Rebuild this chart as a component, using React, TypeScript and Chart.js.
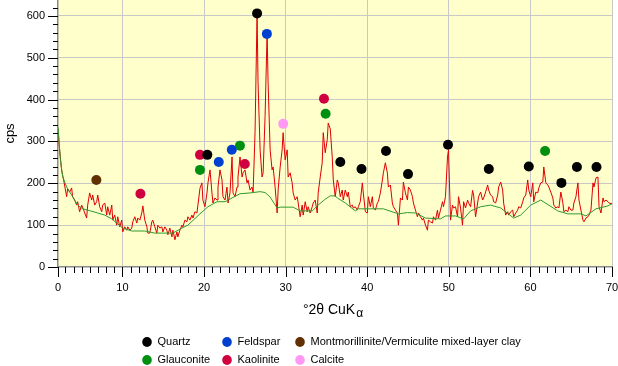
import React, { useEffect, useRef } from "react";
import { Chart, registerables } from "chart.js";

Chart.register(...registerables);

// ---- data ----
const measuredScan: [number, number][] = [
  [2.1,330],[2.25,290],[2.42,256],[2.54,232],[2.79,208],[3.16,168],[3.28,187],[3.53,179],[3.77,189],[3.89,168],
  [4.14,160],[4.39,148],[4.51,156],[4.75,132],[5.0,148],[5.25,136],[5.61,117],[5.74,148],[5.98,177],[6.23,160],
  [6.35,172],[6.6,148],[6.84,156],[6.97,172],[7.21,144],[7.46,132],[7.58,148],[7.83,153],[8.07,124],[8.19,144],
  [8.44,124],[8.69,148],[8.81,112],[9.05,124],[9.3,100],[9.42,120],[9.67,96],[9.91,112],[10.04,84],[10.28,96],
  [10.53,88],[10.65,96],[10.9,88],[11.14,93],[11.27,108],[11.51,120],[11.76,105],[11.88,117],[12.13,112],[12.37,129],
  [12.5,146],[12.74,112],[12.99,96],[13.11,81],[13.35,81],[13.6,108],[13.72,112],[13.97,96],[14.21,81],[14.34,100],
  [14.58,93],[14.83,96],[14.95,84],[15.2,96],[15.44,88],[15.57,77],[15.81,93],[16.06,72],[16.18,88],[16.43,65],
  [16.67,84],[16.79,72],[17.04,88],[17.29,100],[17.41,96],[17.65,112],[17.9,108],[18.02,120],[18.27,112],[18.51,124],
  [18.64,117],[18.88,132],[19.13,129],[19.25,148],[19.5,188],[19.74,201],[19.86,160],[20.11,144],[20.36,177],[20.48,201],
  [20.73,232],[20.97,177],[21.09,153],[21.34,165],[21.59,160],[21.71,191],[21.95,232],[22.2,208],[22.32,168],[22.57,160],
  [22.81,191],[22.94,153],[23.18,177],[23.43,263],[23.55,177],[23.8,168],[24.04,191],[24.16,215],[24.41,263],[24.66,215],
  [24.78,225],[25.02,232],[25.27,201],[25.39,208],[25.64,184],[25.88,191],[26.01,177],[26.25,321],[26.5,607],[26.62,440],
  [26.87,280],[27.11,215],[27.24,225],[27.48,359],[27.73,560],[27.85,440],[28.1,280],[28.34,232],[28.47,239],[28.71,191],
  [28.96,129],[29.08,184],[29.33,239],[29.57,280],[29.69,321],[29.94,256],[30.19,280],[30.31,215],[30.55,225],[30.8,201],
  [30.92,177],[31.17,160],[31.41,168],[31.54,153],[31.78,120],[32.03,148],[32.15,124],[32.4,156],[32.64,132],[32.76,144],
  [33.01,129],[33.26,144],[33.38,153],[33.62,160],[33.87,129],[33.99,177],[34.24,215],[34.48,249],[34.61,321],[34.85,273],
  [35.1,304],[35.22,344],[35.47,330],[35.71,263],[35.84,208],[36.08,168],[36.33,208],[36.45,201],[36.7,168],[36.94,184],
  [37.06,160],[37.31,184],[37.56,168],[37.68,179],[37.92,144],[38.17,148],[38.29,141],[38.54,144],[38.78,136],[38.91,144],
  [39.15,156],[39.4,201],[39.52,177],[39.77,132],[40.01,129],[40.14,168],[40.38,144],[40.63,168],[40.75,141],[41.0,136],
  [41.24,153],[41.36,156],[41.61,177],[41.86,208],[41.98,225],[42.22,249],[42.47,225],[42.59,191],[42.84,196],[43.08,153],
  [43.21,144],[43.45,136],[43.7,129],[43.82,100],[44.07,165],[44.31,160],[44.43,203],[44.68,177],[44.93,160],[45.05,191],
  [45.29,184],[45.54,168],[45.66,153],[45.91,136],[46.15,120],[46.28,129],[46.52,120],[46.77,112],[46.89,117],[47.14,100],
  [47.38,88],[47.5,112],[47.75,108],[48.0,105],[48.12,120],[48.37,112],[48.61,136],[48.73,117],[48.98,136],[49.23,156],
  [49.35,144],[49.59,168],[49.84,263],[49.96,280],[50.21,112],[50.45,148],[50.58,141],[50.82,144],[51.07,120],[51.19,168],
  [51.44,141],[51.68,100],[51.81,156],[52.05,141],[52.3,160],[52.42,153],[52.67,144],[52.91,183],[53.04,172],[53.28,120],
  [53.53,153],[53.65,168],[53.9,179],[54.14,160],[54.27,165],[54.51,179],[54.76,196],[54.88,184],[55.12,172],[55.37,168],
  [55.49,156],[55.74,153],[55.99,172],[56.11,191],[56.36,203],[56.6,184],[56.72,153],[56.97,124],[57.22,132],[57.34,124],
  [57.58,132],[57.83,136],[57.95,120],[58.2,129],[58.44,136],[58.57,144],[58.81,141],[59.06,156],[59.18,165],[59.43,172],
  [59.67,208],[59.8,184],[60.04,168],[60.29,201],[60.41,156],[60.66,179],[60.9,177],[61.03,189],[61.27,201],[61.52,203],
  [61.64,239],[61.89,201],[62.13,196],[62.26,191],[62.5,179],[62.75,165],[62.87,148],[63.12,141],[63.36,144],[63.49,141],
  [63.73,179],[63.98,153],[64.1,132],[64.35,136],[64.59,132],[64.72,144],[64.96,136],[65.21,136],[65.33,153],[65.58,168],
  [65.82,201],[65.95,160],[66.19,136],[66.44,112],[66.56,108],[66.81,117],[67.05,120],[67.18,124],[67.42,136],[67.67,201],
  [67.79,191],[68.04,213],[68.28,215],[68.41,144],[68.65,129],[68.9,165],[69.02,156],[69.27,160],[69.51,156],[69.64,153],
  [69.88,151],[70.0,153],
];

const backgroundCurve: [number, number][] = [
  [2.1,335],[2.4,255],[2.67,216],[3.16,191],[3.77,172],[4.51,148],[5.12,139],[5.74,136],[6.97,129],[7.83,124],
  [8.69,115],[9.3,105],[10.04,93],[11.14,86],[12.74,86],[13.97,81],[16.18,81],[17.29,93],[18.02,100],[19.5,127],
  [20.48,144],[21.59,156],[22.57,156],[23.43,165],[24.41,175],[25.64,177],[26.87,180],[27.48,178],[28.1,167],[28.96,141],
  [29.33,143],[29.94,143],[30.92,143],[31.78,134],[33.26,134],[33.99,148],[34.85,162],[35.47,170],[36.08,170],[36.33,165],
  [37.31,153],[38.54,134],[38.91,139],[41.98,139],[43.82,127],[44.93,130],[45.91,129],[47.14,117],[48.98,115],[49.59,122],
  [50.82,122],[51.81,115],[52.67,134],[53.9,144],[55.12,148],[56.36,141],[57.95,117],[58.81,124],[60.04,148],[61.27,160],
  [63.36,134],[64.59,127],[66.19,127],[66.81,122],[68.04,139],[69.51,146],[70.0,151],
];

const quartzPeaks: [number, number][] = [
  [20.4,268],[26.5,606],[36.7,251],[39.3,234],[42.3,277],[45.0,222],[49.9,292],[54.9,234],[59.8,240],[63.8,201],[65.7,239],[68.1,239],
];
const feldsparPeaks: [number, number][] = [[21.8,251],[23.4,280],[27.7,557]];
const clayPeaks: [number, number][] = [[6.8,208]];
const glauconitePeaks: [number, number][] = [[19.5,232],[24.4,290],[34.9,366],[61.8,277]];
const kaolinitePeaks: [number, number][] = [[12.2,175],[19.5,268],[25.0,246],[34.7,402]];
const calcitePeaks: [number, number][] = [[29.7,342]];

const mineralNames = [
  "Quartz", "Feldspar", "Montmorillinite/Vermiculite mixed-layer clay",
  "Glauconite", "Kaolinite", "Calcite",
];
const mineralColors = ["#000000", "#0040d0", "#603000", "#009010", "#d00040", "#ff99f4"];
const mineralPeaks = [quartzPeaks, feldsparPeaks, clayPeaks, glauconitePeaks, kaolinitePeaks, calcitePeaks];

const xMin = 2.1;
const xMax = 70;
const yMax = 638;
const xTickValues = [2.1, 10, 20, 30, 40, 50, 60, 70];
const xTickLabels = ["0", "10", "20", "30", "40", "50", "60", "70"];
const yTickValues = [0, 100, 200, 300, 400, 500, 600];
const xAxisTitle = "°2θ CuK";
const xAxisTitleSub = "α";
const yAxisTitle = "cps";

const FONT = "'Liberation Sans', Arial, Helvetica, sans-serif";

const bgPlugin = {
  id: "plotBg",
  beforeDraw(chart: any) {
    const { ctx, chartArea } = chart;
    ctx.save();
    ctx.fillStyle = "#ffffcc";
    ctx.fillRect(chartArea.left, chartArea.top, chartArea.right - chartArea.left, chartArea.bottom - chartArea.top);
    ctx.restore();
  },
};

const decorPlugin = {
  id: "decor",
  afterDraw(chart: any) {
    const { ctx, chartArea, scales } = chart;
    const xs = scales.x;
    const ys = scales.y;
    ctx.save();
    // tick marks
    ctx.strokeStyle = "#000";
    ctx.lineWidth = 1;
    ctx.beginPath();
    for (let v = 0; v <= 620; v += 20) {
      const py = Math.round(ys.getPixelForValue(v)) + 0.5;
      const len = v % 100 === 0 ? 10 : 5;
      ctx.moveTo(chartArea.left - len, py);
      ctx.lineTo(chartArea.left, py);
    }
    const xMinor: number[] = [xMin];
    for (let v = 3; v <= 70; v += 1) xMinor.push(v);
    for (const v of xMinor) {
      const px = Math.round(xs.getPixelForValue(v)) + 0.5;
      const major = v === xMin || v % 10 === 0;
      const len = major ? 10 : 6;
      ctx.moveTo(px, chartArea.bottom);
      ctx.lineTo(px, chartArea.bottom + len);
    }
    ctx.stroke();

    // x axis title with subscript
    ctx.fillStyle = "#000";
    ctx.textBaseline = "alphabetic";
    ctx.font = `14px ${FONT}`;
    const w1 = ctx.measureText(xAxisTitle).width;
    ctx.font = `12px ${FONT}`;
    const w2 = ctx.measureText(xAxisTitleSub).width;
    const cx = (chartArea.left + chartArea.right) / 2 - 2;
    const startX = cx - (w1 + w2 + 1) / 2;
    ctx.font = `14px ${FONT}`;
    ctx.textAlign = "left";
    ctx.fillText(xAxisTitle, startX, 314);
    ctx.font = `12px ${FONT}`;
    ctx.fillText(xAxisTitleSub, startX + w1 + 1, 317);

    // legend
    const colX = [147, 227, 300];
    const rowY = [342, 360];
    ctx.font = `11px ${FONT}`;
    ctx.textBaseline = "middle";
    mineralNames.forEach((name, i) => {
      const cxm = colX[i % 3];
      const cym = rowY[Math.floor(i / 3)];
      ctx.fillStyle = mineralColors[i];
      ctx.beginPath();
      ctx.ellipse(cxm, cym, 4.8, 5, 0, 0, Math.PI * 2);
      ctx.fill();
      ctx.fillStyle = "#000";
      ctx.fillText(name, cxm + 10.5, cym);
    });
    ctx.restore();
  },
};

const zeroPadding = (s: any) => {
  s.paddingTop = 0;
  s.paddingBottom = 0;
  s.paddingLeft = 0;
  s.paddingRight = 0;
};

export default function App() {
  const ref = useRef<HTMLCanvasElement>(null);
  useEffect(() => {
    const canvas = ref.current;
    if (!canvas) return;
    const toPts = (arr: [number, number][]) => arr.map(([x, y]) => ({ x, y }));
    const markerSets = mineralPeaks.map((pk, i) => ({
      label: mineralNames[i],
      data: toPts(pk),
      showLine: false,
      pointRadius: 5,
      pointHoverRadius: 5,
      pointBorderWidth: 0,
      pointBackgroundColor: mineralColors[i],
      pointBorderColor: mineralColors[i],
      order: 0,
    }));
    const chart = new Chart(canvas, {
      type: "scatter",
      data: {
        datasets: [
          ...markerSets,
          {
            label: "background",
            data: toPts(backgroundCurve),
            showLine: true,
            borderColor: "#2f9a2f",
            borderWidth: 1,
            pointRadius: 0,
            tension: 0,
            order: 1,
          },
          {
            label: "scan",
            data: toPts(measuredScan),
            showLine: true,
            borderColor: "#e00000",
            borderWidth: 1,
            pointRadius: 0,
            tension: 0,
            order: 2,
          },
        ] as any,
      },
      options: {
        responsive: false,
        animation: false,
        events: [],
        layout: { autoPadding: false, padding: { left: 0, right: 6, top: 0, bottom: 47 } },
        plugins: { legend: { display: false }, tooltip: { enabled: false }, title: { display: false } },
        scales: {
          x: {
            type: "linear",
            min: xMin,
            max: xMax,
            afterBuildTicks: (s: any) => {
              s.ticks = xTickValues.map((v) => ({ value: v }));
            },
            afterFit: (s: any) => {
              s.height = 52;
              zeroPadding(s);
            },
            ticks: {
              autoSkip: false,
              maxRotation: 0,
              padding: 14,
              color: "#000",
              font: { family: FONT, size: 11 },
              callback: (v: any) => {
                const idx = xTickValues.indexOf(Number(v));
                return idx >= 0 ? xTickLabels[idx] : "";
              },
            },
            grid: {
              drawTicks: false,
              color: (c: any) => (c.tick && c.tick.value === xMin ? "rgba(0,0,0,0)" : "#c8c8c8"),
              lineWidth: 1,
            },
            border: { display: true, color: "#8a8a8a", width: 1.5 },
          },
          y: {
            type: "linear",
            min: 0,
            max: yMax,
            afterBuildTicks: (s: any) => {
              s.ticks = yTickValues.map((v) => ({ value: v }));
            },
            afterFit: (s: any) => {
              s.width = 58;
              zeroPadding(s);
            },
            ticks: {
              padding: 13,
              color: "#000",
              font: { family: FONT, size: 11 },
            },
            grid: {
              drawTicks: false,
              color: (c: any) => (c.tick && c.tick.value === 0 ? "rgba(0,0,0,0)" : "#c8c8c8"),
              lineWidth: 1,
            },
            border: { display: true, color: "#8a8a8a", width: 1.5 },
            title: {
              display: true,
              text: yAxisTitle,
              color: "#000",
              font: { family: FONT, size: 13 },
              padding: { top: 3, bottom: 0 },
            },
          },
        },
      },
      plugins: [bgPlugin, decorPlugin],
    } as any);
    return () => chart.destroy();
  }, []);
  return (
    <div style={{ position: "absolute", left: 0, top: 0, width: 618, height: 366, background: "#fff" }}>
      <canvas ref={ref} width={618} height={366} style={{ display: "block", width: 618, height: 366 }} />
    </div>
  );
}
